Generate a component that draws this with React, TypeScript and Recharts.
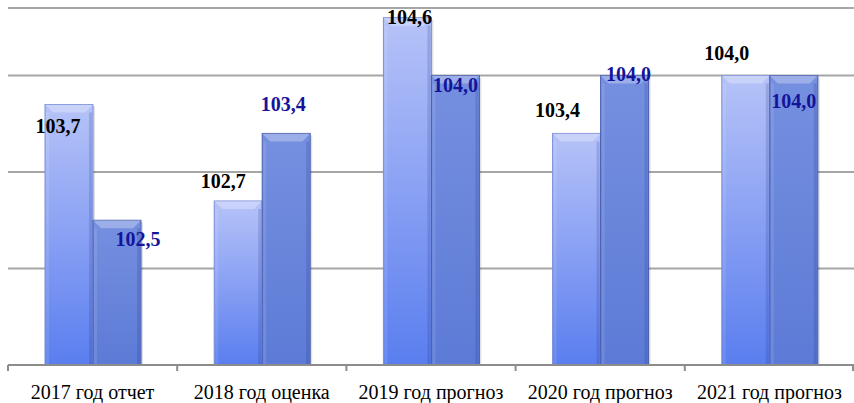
import React from 'react';
import { BarChart, Bar, XAxis, YAxis, CartesianGrid, LabelList } from 'recharts';

const categories = ['2017 год отчет', '2018 год оценка', '2019 год прогноз', '2020 год прогноз', '2021 год прогноз'];
const seriesA = [103.7, 102.7, 104.6, 103.4, 104.0];
const seriesB = [102.5, 103.4, 104.0, 104.0, 104.0];
const yTicks = [101, 102, 103, 104];

// label offsets (text centre relative to bar top centre), as placed in the original
const offsetsA = [[-11, 22], [-15, -20], [2, -1], [-19, -23], [-19, -23]];
const offsetsB = [[21, 19], [-3, -29], [0, 9], [4, -2], [0, 25]];

const data = categories.map((name, i) => ({ name, a: seriesA[i], b: seriesB[i] }));

const fmt = (v: number) => v.toFixed(1).replace('.', ',');
const SERIF = 'Times New Roman';
const BASE = 7; // centre -> baseline shift for 20px text

const BevelBar = (props: any) => {
  const { x, y, width, height, fill, edge } = props;
  if (!height || height <= 0) return null;
  const b = 8;
  return (
    <g>
      <rect x={x + 2} y={y + 2} width={width} height={height - 2} fill="#000" opacity={0.12} />
      <rect x={x} y={y} width={width} height={height} fill={fill} stroke={edge} strokeWidth={1} />
      <polygon
        points={`${x},${y} ${x + width},${y} ${x + width - b},${y + b} ${x + b},${y + b}`}
        fill="#ffffff"
        opacity={0.28}
      />
      <rect x={x + 1} y={y + b} width={3} height={height - b - 1} fill="#ffffff" opacity={0.1} />
      <rect x={x + width - 4} y={y + b} width={3} height={height - b - 1} fill="#1c2c80" opacity={0.18} />
    </g>
  );
};

const makeLabel = (offsets: number[][], color: string) => (props: any) => {
  const { x, y, width, index, value } = props;
  const [dx, dy] = offsets[index];
  return (
    <text
      x={x + width / 2 + dx}
      y={y + dy + BASE}
      textAnchor="middle"
      fill={color}
      fontFamily={SERIF}
      fontWeight="bold"
      fontSize={20}
    >
      {fmt(value)}
    </text>
  );
};

const BAND = 846 / categories.length;

const CategoryTick = (props: any) => {
  const { x, y, payload, index } = props;
  return (
    <g>
      <line x1={x - BAND / 2} y1={y} x2={x - BAND / 2} y2={y + 6} stroke="#8c8c8c" strokeWidth={2} />
      {index === categories.length - 1 && (
        <line x1={x + BAND / 2 - 1} y1={y} x2={x + BAND / 2 - 1} y2={y + 6} stroke="#8c8c8c" strokeWidth={2} />
      )}
      <text x={x} y={y + 27 + BASE} textAnchor="middle" fill="#000" fontFamily={SERIF} fontSize={20}>
        {payload.value}
      </text>
    </g>
  );
};

export default function App() {
  return (
    <div style={{ position: 'absolute', left: 0, top: 0, width: 854, height: 403, background: '#fff' }}>
      <BarChart
        width={854}
        height={403}
        data={data}
        margin={{ top: 8, right: 0, bottom: 0, left: 8 }}
        barGap={0}
        barSize={48}
      >
        <defs>
          <linearGradient id="gradA" x1="0" y1="0" x2="0" y2="1">
            <stop offset="0%" stopColor="#b6c3f8" />
            <stop offset="45%" stopColor="#8ea4f4" />
            <stop offset="100%" stopColor="#5a7eef" />
          </linearGradient>
          <linearGradient id="gradB" x1="0" y1="0" x2="0" y2="1">
            <stop offset="0%" stopColor="#7690e0" />
            <stop offset="100%" stopColor="#5c7bd6" />
          </linearGradient>
        </defs>
        <CartesianGrid vertical={false} stroke="#a6a6a6" strokeWidth={2} />
        <XAxis
          dataKey="name"
          height={38}
          axisLine={{ stroke: '#8c8c8c', strokeWidth: 2 }}
          tickLine={false}
          tickSize={0}
          tickMargin={0}
          interval={0}
          tick={<CategoryTick />}
        />
        <YAxis hide domain={[101, 104.7]} ticks={yTicks} allowDataOverflow />
        <Bar dataKey="a" fill="url(#gradA)" shape={<BevelBar edge="#7b8fd8" />} isAnimationActive={false}>
          <LabelList dataKey="a" content={makeLabel(offsetsA, '#000000')} />
        </Bar>
        <Bar dataKey="b" fill="url(#gradB)" shape={<BevelBar edge="#4a5eb0" />} isAnimationActive={false}>
          <LabelList dataKey="b" content={makeLabel(offsetsB, '#14149b')} />
        </Bar>
      </BarChart>
    </div>
  );
}
